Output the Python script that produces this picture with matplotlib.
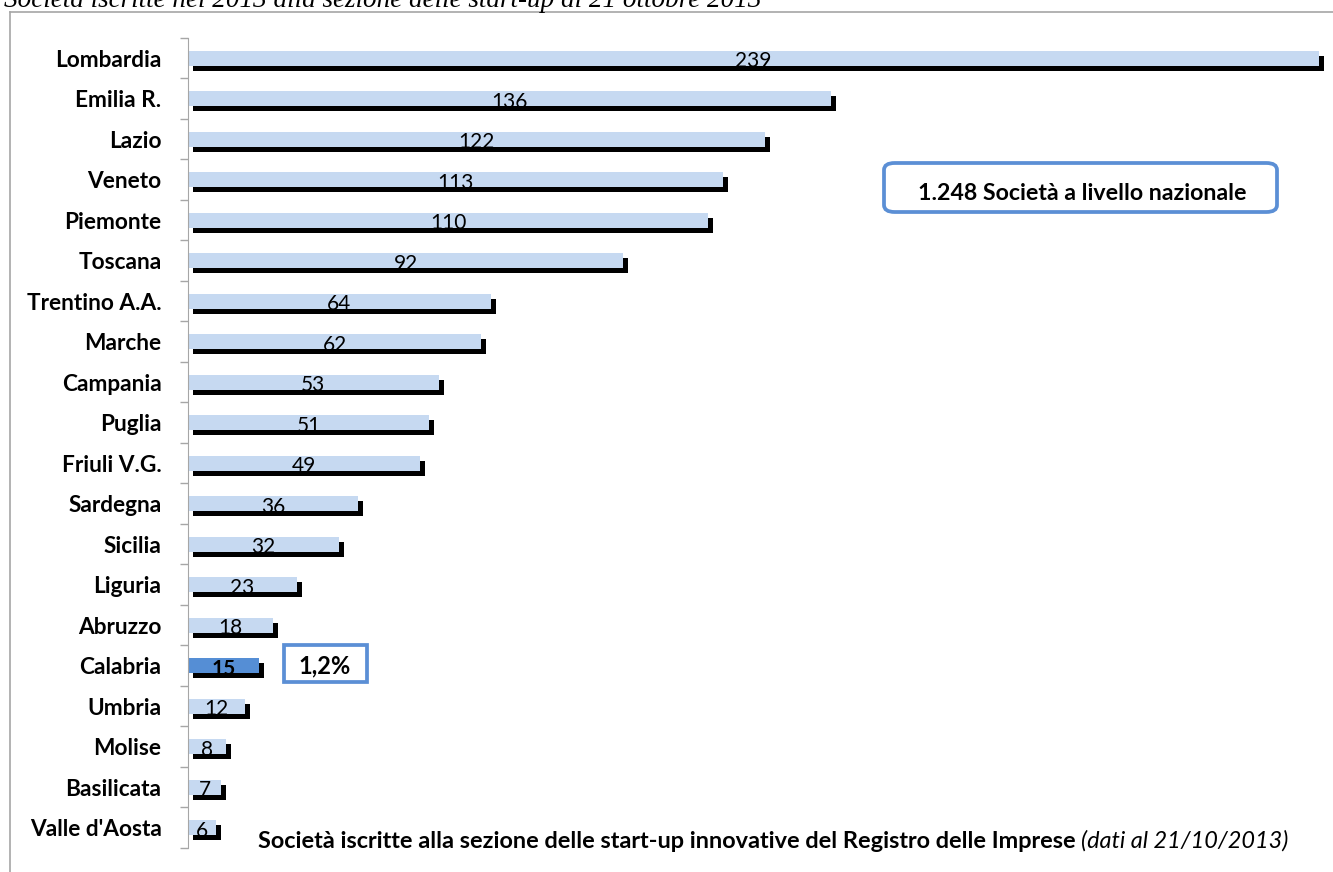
import matplotlib
matplotlib.use("Agg")
import matplotlib.pyplot as plt
import matplotlib.patheffects as pe
from matplotlib.patches import FancyBboxPatch, Rectangle
import numpy as np

regions = ["Lombardia", "Emilia R.", "Lazio", "Veneto", "Piemonte", "Toscana",
           "Trentino A.A.", "Marche", "Campania", "Puglia", "Friuli V.G.",
           "Sardegna", "Sicilia", "Liguria", "Abruzzo", "Calabria", "Umbria",
           "Molise", "Basilicata", "Valle d'Aosta"]
values = [239, 136, 122, 113, 110, 92, 64, 62, 53, 51, 49, 36, 32, 23, 18, 15,
          12, 8, 7, 6]
highlight = "Calabria"
share_label = "1,2%"
total_label = "1.248 Società a livello nazionale"
caption_bold = "Società iscritte alla sezione delle start-up innovative del Registro delle Imprese"
caption_italic = "(dati al 21/10/2013)"
top_title = "Società iscritte nel 2013 alla sezione delle start-up al 21 ottobre 2013"

FONT = ["Lato", "DejaVu Sans"]
plt.rcParams['font.family'] = FONT

W, H = 1333, 872
fig = plt.figure(figsize=(W / 100, H / 100), dpi=100)

def fx(px):
    return px / W

def fy(py):
    return 1 - py / H

# figure border (grey frame, open on right/bottom)
fig.add_artist(plt.Line2D([fx(10), fx(1340)], [fy(12), fy(12)], color="#A6A6A6", lw=1.2))
fig.add_artist(plt.Line2D([fx(10), fx(10)], [fy(12), fy(880)], color="#A6A6A6", lw=1.2))

ax = fig.add_axes([fx(188), fy(848), fx(1328) - fx(188), (848 - 38) / H])
n = len(regions)
y = np.arange(n)
colors = ["#558ED5" if r == highlight else "#C6D9F1" for r in regions]
bars = ax.barh(y, values, height=0.37, color=colors, edgecolor="none")
for b in bars:
    b.set_path_effects([pe.SimplePatchShadow(offset=(3.6, -3.6), shadow_rgbFace="black", alpha=1.0),
                        pe.Normal()])

ax.set_ylim(n - 0.5, -0.5)
ax.set_xlim(0, 241)
ax.set_yticks(y)
ax.set_yticklabels(regions, fontsize=16.3, fontweight="bold")
ax.set_yticks(np.arange(n + 1) - 0.5, minor=True)
ax.tick_params(axis="y", which="major", length=0, pad=19)
ax.tick_params(axis="y", which="minor", length=6, color="#A6A6A6", width=1)
ax.set_xticks([])
for s in ["top", "right", "bottom"]:
    ax.spines[s].set_visible(False)
ax.spines["left"].set_color("#A6A6A6")

for r, v, yy in zip(regions, values, y):
    ax.text(v / 2, yy + 0.07, str(v), ha="center", va="center", fontsize=15,
            fontweight="bold" if r == highlight else "normal", color="black")

# total box
fig.text(fx(1082), fy(193), total_label, ha="center", va="center", fontsize=16.7,
         fontweight="bold")
box = FancyBboxPatch((fx(884), fy(212)), fx(1277) - fx(884), (212 - 163) / H,
                     boxstyle="round,pad=0,rounding_size=0.008", transform=fig.transFigure,
                     facecolor="none", edgecolor="#5B8FD5", lw=2.7)
fig.add_artist(box)

# share box
fig.add_artist(Rectangle((fx(284), fy(682)), fx(367) - fx(284), (682 - 645) / H,
                         transform=fig.transFigure, facecolor="none",
                         edgecolor="#5B8FD5", lw=2.7))
fig.text(fx(325), fy(666), share_label, ha="center", va="center", fontsize=17,
         fontweight="bold")

# caption
t1 = fig.text(fx(258), fy(841), caption_bold + " ", ha="left", va="center",
              fontsize=16.9, fontweight="bold")
fig.canvas.draw()
bb = t1.get_window_extent()
fig.text(bb.x1 / W, fy(841), caption_italic, ha="left", va="center", fontsize=16.9,
         style="italic")

# top title (partially cut at top edge, as in the reference)
fig.text(fx(4), fy(7), top_title, ha="left", va="baseline", fontsize=19.5,
         style="italic", family=["Liberation Serif", "DejaVu Serif"])

fig.savefig("out.png", dpi=100)
